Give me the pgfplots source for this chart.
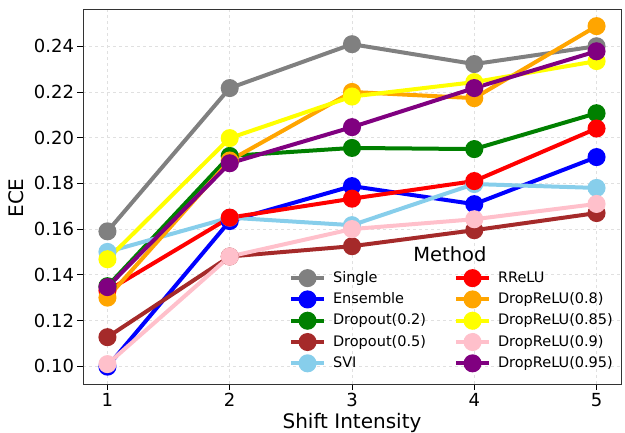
\documentclass[border=0pt]{standalone}
\usepackage{pgfplots}
\pgfplotsset{compat=1.18}
\usepackage{fontspec}
\setmainfont{DejaVu Sans}
\definecolor{cgray}{RGB}{128,128,128}
\definecolor{cblue}{RGB}{0,0,255}
\definecolor{cgreen}{RGB}{0,128,0}
\definecolor{cbrown}{RGB}{165,42,42}
\definecolor{csky}{RGB}{135,206,235}
\definecolor{cred}{RGB}{255,0,0}
\definecolor{corange}{RGB}{255,165,0}
\definecolor{cyellow}{RGB}{255,255,0}
\definecolor{cpink}{RGB}{255,192,203}
\definecolor{cpurple}{RGB}{128,0,128}
\begin{document}
\begin{tikzpicture}
\useasboundingbox (-83pt,-48pt) rectangle (542pt,384pt);
\begin{axis}[
  at={(0,0)}, anchor=south west,
  scale only axis, width=538pt, height=375pt,
  xmin=0.8, xmax=5.2, ymin=0.0922, ymax=0.2563,
  xtick={1,2,3,4,5},
  ytick={0.10,0.12,0.14,0.16,0.18,0.20,0.22,0.24},
  yticklabel style={/pgf/number format/.cd,fixed,fixed zerofill,precision=2},
  /pgf/number format/assume math mode=true,
  tick label style={font=\fontsize{18}{21}\selectfont},
  label style={font=\fontsize{20}{24}\selectfont},
  xlabel={Shift Intensity}, ylabel={ECE},
  xlabel style={at={(axis description cs:0.5,-0.118)}, anchor=base},
  ylabel style={at={(axis description cs:-0.1097,0.496)}, anchor=base, rotate=0},
  tick align=outside, tick pos=left,
  major tick length=5.5pt,
  every tick/.style={black, line width=0.8pt},
  axis line style={draw=black!80, line width=0.8pt},
  grid=major,
  major grid style={draw=black!12, dashed, line width=0.6pt},
  every axis plot/.append style={line width=4pt, mark=*, mark size=7pt},
  legend columns=2,
  legend cell align=left,
  legend style={draw=none, fill=none, font=\fontsize{14.5}{17}\selectfont,
    at={(axis description cs:0.383,0.301)}, anchor=north west,
    inner sep=0pt, outer sep=0pt,
    nodes={inner sep=0pt, text height=11pt, text depth=3pt},
    /tikz/every odd column/.append style={column sep=7pt},
    /tikz/every even column/.append style={column sep=28pt},
    row sep=7.3pt},
  legend image code/.code={
    \draw[#1, line width=4pt] (0pt,0pt) -- (33pt,0pt);
    \draw[#1, mark repeat=1] plot coordinates {(16.5pt,0pt)};
  },
]
\addplot[cgray, mark options={fill=cgray}, forget plot] coordinates {(1,0.159) (2,0.2217) (3,0.2409) (4,0.2322) (5,0.2400)};
\addplot[cblue, mark options={fill=cblue}, forget plot] coordinates {(1,0.0998) (2,0.1635) (3,0.1788) (4,0.1709) (5,0.1915)};
\addplot[cgreen, mark options={fill=cgreen}, forget plot] coordinates {(1,0.1350) (2,0.1920) (3,0.1955) (4,0.1950) (5,0.2107)};
\addplot[cbrown, mark options={fill=cbrown}, forget plot] coordinates {(1,0.1127) (2,0.1480) (3,0.1525) (4,0.1595) (5,0.1670)};
\addplot[csky, mark options={fill=csky}, forget plot] coordinates {(1,0.1500) (2,0.1650) (3,0.1617) (4,0.1797) (5,0.1780)};
\addplot[cred, mark options={fill=cred}, forget plot] coordinates {(1,0.1330) (2,0.1650) (3,0.1733) (4,0.1810) (5,0.2040)};
\addplot[corange, mark options={fill=corange}, forget plot] coordinates {(1,0.1300) (2,0.1900) (3,0.2200) (4,0.2173) (5,0.2488)};
\addplot[cyellow, mark options={fill=cyellow}, forget plot] coordinates {(1,0.1468) (2,0.1998) (3,0.2180) (4,0.2243) (5,0.2335)};
\addplot[cpink, mark options={fill=cpink}, forget plot] coordinates {(1,0.1009) (2,0.1480) (3,0.1600) (4,0.1643) (5,0.1710)};
\addplot[cpurple, mark options={fill=cpurple}, forget plot] coordinates {(1,0.1346) (2,0.1888) (3,0.2046) (4,0.2217) (5,0.2378)};
\addlegendimage{cgray, line width=4pt, mark=*, mark size=7pt, mark options={fill=cgray}}
\addlegendentry{Single}
\addlegendimage{cred, line width=4pt, mark=*, mark size=7pt, mark options={fill=cred}}
\addlegendentry{RReLU}
\addlegendimage{cblue, line width=4pt, mark=*, mark size=7pt, mark options={fill=cblue}}
\addlegendentry{Ensemble}
\addlegendimage{corange, line width=4pt, mark=*, mark size=7pt, mark options={fill=corange}}
\addlegendentry{DropReLU(0.8)}
\addlegendimage{cgreen, line width=4pt, mark=*, mark size=7pt, mark options={fill=cgreen}}
\addlegendentry{Dropout(0.2)}
\addlegendimage{cyellow, line width=4pt, mark=*, mark size=7pt, mark options={fill=cyellow}}
\addlegendentry{DropReLU(0.85)}
\addlegendimage{cbrown, line width=4pt, mark=*, mark size=7pt, mark options={fill=cbrown}}
\addlegendentry{Dropout(0.5)}
\addlegendimage{cpink, line width=4pt, mark=*, mark size=7pt, mark options={fill=cpink}}
\addlegendentry{DropReLU(0.9)}
\addlegendimage{csky, line width=4pt, mark=*, mark size=7pt, mark options={fill=csky}}
\addlegendentry{SVI}
\addlegendimage{cpurple, line width=4pt, mark=*, mark size=7pt, mark options={fill=cpurple}}
\addlegendentry{DropReLU(0.95)}
\node[font=\fontsize{19.5}{23}\selectfont, anchor=center] at (rel axis cs:0.682,0.347) {Method};
\end{axis}
\end{tikzpicture}
\end{document}
